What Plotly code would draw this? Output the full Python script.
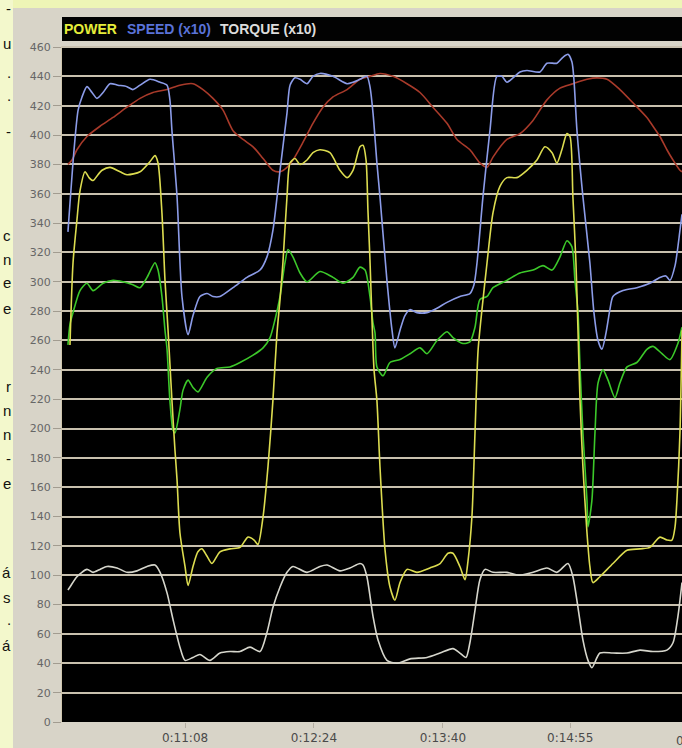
import plotly.graph_objects as go

W, H = 682, 748

# ---- elapsed time (s) and readings -------------------------------------
power_t = [600.2, 602.0, 604.3, 606.1, 609.1, 611.4, 613.8, 616.7, 619.1, 623.8, 629.7, 633.8,
           641.5, 647.4, 650.3, 652.1, 654.4, 656.2, 658.0, 660.3, 662.1, 663.3, 665.0, 668.0,
           669.8, 672.7, 675.6, 678.0, 681.0, 683.9, 688.6, 694.5, 700.4, 705.1, 708.7, 711.0,
           714.0, 716.9, 719.8, 722.2, 724.0, 725.7, 728.1, 729.9, 732.8, 735.8, 739.9, 743.4,
           747.5, 753.4, 759.3, 763.5, 767.0, 771.1, 772.9, 774.7, 775.8, 777.0, 778.2, 779.4,
           781.1, 782.9, 785.9, 788.8, 791.7, 794.7, 798.8, 804.7, 812.4, 818.3, 823.0, 825.9,
           830.0, 833.0, 834.8, 837.1, 838.9, 840.7, 843.0, 846.0, 849.5, 853.6, 857.7, 863.6,
           869.5, 875.4, 880.1, 884.3, 887.2, 890.1, 893.1, 894.9, 896.6, 898.4, 899.6, 900.8,
           902.5, 904.9, 906.6, 908.4, 912.5, 920.2, 928.5, 936.1, 942.0, 947.9, 952.0, 955.0,
           956.8, 957.9, 959.7, 960.9]
power_w = [257, 313, 342, 362, 375, 371, 369, 373, 376, 378, 375, 373,
           375, 382, 386, 381, 347, 301, 267, 219, 185, 165, 129, 106,
           93, 106, 116, 118, 113, 108, 116, 118, 119, 126, 124, 121,
           140, 174, 219, 265, 288, 313, 358, 381, 384, 380, 383, 388,
           390, 388, 376, 371, 376, 392, 393, 383, 349, 315, 274, 240,
           219, 174, 117, 92, 83, 95, 104, 102, 105, 108, 115, 115,
           106, 97, 110, 140, 197, 253, 281, 313, 347, 365, 371, 371,
           376, 383, 392, 388, 381, 390, 401, 399, 358, 313, 267, 219,
           174, 129, 106, 95, 99, 108, 117, 118, 119, 126, 124, 124,
           133, 151, 197, 267]

speed_t = [599.0, 602.6, 605.0, 607.3, 610.2, 613.2, 616.1, 619.7, 623.8, 628.5, 633.8, 637.3,
           641.5, 647.4, 653.3, 657.4, 659.1, 660.3, 663.3, 666.2, 669.8, 672.7, 676.8, 681.0,
           684.5, 688.6, 696.3, 704.5, 712.2, 716.3, 719.8, 724.0, 728.1, 729.9, 732.8, 735.8,
           739.9, 743.4, 747.5, 755.2, 763.5, 767.0, 771.1, 775.2, 777.0, 778.8, 781.1, 782.9,
           787.0, 790.0, 791.7, 794.7, 797.6, 800.6, 804.7, 810.6, 816.5, 822.4, 830.0, 835.9,
           838.3, 840.1, 843.6, 847.7, 851.8, 854.8, 857.7, 861.3, 865.4, 869.5, 877.2, 881.3,
           887.2, 890.7, 893.7, 896.0, 897.2, 899.0, 902.5, 906.6, 909.0, 911.4, 913.7, 916.1,
           918.4, 920.2, 926.1, 934.3, 942.0, 947.9, 951.4, 953.8, 956.8, 959.7, 960.9]
speed_x10 = [334, 390, 417, 426, 433, 429, 425, 429, 435, 434, 433, 431,
             434, 438, 436, 434, 424, 403, 358, 290, 264, 277, 290, 292,
             290, 290, 296, 303, 308, 317, 335, 376, 415, 434, 439, 438,
             435, 440, 442, 440, 435, 436, 438, 440, 433, 415, 381, 358,
             301, 267, 255, 267, 277, 281, 279, 279, 282, 286, 290, 292,
             298, 313, 358, 403, 440, 440, 436, 439, 443, 444, 443, 449,
             449, 453, 455, 450, 438, 403, 358, 313, 279, 260, 254, 265,
             281, 290, 294, 296, 299, 303, 304, 301, 311, 335, 346]

torque_t = [599.0, 600.2, 604.3, 610.2, 613.8, 617.9, 622.0, 627.9, 633.8, 639.7, 645.6, 650.3,
            653.3, 657.4, 660.9, 665.0, 668.0, 672.7, 676.8, 682.7, 688.6, 694.5, 700.4, 706.3,
            712.2, 716.3, 719.8, 724.0, 728.1, 731.6, 739.9, 747.5, 751.7, 759.3, 765.2, 771.1,
            772.9, 775.2, 778.8, 781.7, 787.0, 792.9, 800.6, 810.6, 818.3, 825.9, 830.0, 833.6,
            835.9, 838.9, 841.8, 844.8, 849.5, 857.7, 865.4, 873.1, 881.3, 887.2, 893.7, 896.6,
            899.6, 902.5, 905.5, 907.8, 912.5, 920.2, 928.5, 936.1, 943.8, 952.0, 955.6, 958.5,
            960.9]
torque_x10 = [90, 92, 99, 104, 102, 104, 106, 105, 102, 103, 106, 107,
              102, 88, 70, 51, 42, 44, 46, 42, 47, 48, 48, 51,
              48, 61, 78, 92, 102, 106, 102, 106, 107, 103, 105, 108,
              107, 99, 72, 56, 42, 40, 43, 44, 47, 50, 47, 44,
              54, 76, 97, 104, 102, 102, 100, 102, 105, 102, 108, 99,
              78, 56, 42, 37, 47, 47, 47, 49, 48, 49, 54, 72,
              95]

hr_t = [599.0, 601.4, 604.3, 610.2, 617.9, 625.6, 633.8, 641.5, 649.1, 657.4, 665.0, 672.7,
        678.6, 684.5, 690.4, 696.3, 702.2, 708.1, 714.0, 719.8, 724.0, 728.1, 731.6, 737.5,
        743.4, 749.3, 755.2, 763.5, 771.1, 777.0, 782.9, 790.6, 798.8, 806.5, 814.1, 822.4,
        828.3, 835.9, 841.8, 846.0, 849.5, 857.7, 865.4, 873.1, 881.3, 889.0, 896.6, 904.9,
        910.8, 916.7, 924.3, 932.0, 940.2, 943.8, 947.9, 952.0, 955.6, 959.7, 960.9]
hr_bpm = [380, 383, 390, 399, 406, 412, 419, 425, 429, 431, 434, 435,
          431, 425, 417, 403, 397, 392, 384, 376, 375, 378, 383, 395,
          408, 419, 426, 431, 438, 440, 442, 440, 435, 429, 419, 408,
          397, 390, 381, 378, 385, 397, 401, 410, 424, 432, 435, 438,
          439, 438, 431, 422, 412, 406, 399, 390, 383, 376, 375]

cad_t = [599.0, 600.2, 602.0, 606.1, 610.2, 613.8, 619.7, 625.6, 631.4, 637.3, 641.5, 645.6,
         650.3, 652.1, 654.4, 656.2, 657.4, 659.1, 660.9, 662.1, 665.0, 666.8, 669.8, 672.7,
         675.6, 681.0, 686.8, 694.5, 700.4, 708.1, 714.0, 718.1, 721.0, 724.0, 726.9, 728.7,
         731.6, 735.8, 739.9, 747.5, 755.2, 761.1, 767.0, 771.1, 774.1, 777.0, 778.8, 780.0,
         781.1, 784.7, 788.8, 794.7, 800.6, 806.5, 810.6, 816.5, 822.4, 825.9, 831.8, 835.9,
         838.9, 841.8, 846.0, 849.5, 857.7, 865.4, 873.1, 879.0, 884.3, 889.0, 893.1, 896.0,
         897.8, 899.6, 900.8, 902.5, 904.9, 905.5, 907.8, 909.6, 911.4, 914.3, 917.3, 921.4,
         924.3, 928.5, 934.3, 940.2, 943.8, 949.1, 953.8, 958.5, 960.9]
cad_rpm = [257, 271, 279, 294, 299, 294, 299, 301, 300, 298, 296, 303,
           313, 308, 290, 267, 254, 219, 199, 197, 213, 226, 233, 228,
           225, 235, 241, 242, 245, 250, 255, 262, 274, 290, 313, 322,
           317, 306, 300, 307, 303, 299, 303, 310, 308, 290, 272, 265,
           242, 236, 245, 247, 251, 255, 251, 260, 266, 262, 258, 259,
           269, 288, 290, 296, 301, 306, 308, 311, 308, 317, 328, 324,
           301, 279, 242, 197, 151, 133, 151, 197, 231, 240, 233, 221,
           231, 242, 245, 254, 256, 251, 247, 258, 269]

tick_labels = ["0:11:08", "0:12:24", "0:13:40", "0:14:55", "0:16:11"]
x_range = [595.5, 960.9]
y_range = [0, 460.7]

# fragments of the neighbouring page column, visible at the left edge
side_chars = ["-", "u", ".", ".", "-", "c", "n", "e", "e", "r", "n", "n", "-", "e", "á", "s", ".", "á"]
side_rows = [8, 43, 72, 96, 131, 235, 259, 283, 308, 386, 410, 434, 458, 484, 572, 597, 619, 645]


def to_seconds(label):
    h, m, s = (int(p) for p in label.split(":"))
    return h * 3600 + m * 60 + s


PLOT_L, PLOT_T, PLOT_B = 62, 46, 722
x_dom = [PLOT_L / W, 1.0]
y_dom = [(H - PLOT_B) / H, (H - PLOT_T) / H]

fig = go.Figure()

traces = [
    ("HR", hr_t, hr_bpm, "#a83a2a"),
    ("CADENCE", cad_t, cad_rpm, "#3cc82a"),
    ("TORQUE (x10)", torque_t, torque_x10, "#d6d6cc"),
    ("SPEED (x10)", speed_t, speed_x10, "#8c9ce8"),
    ("POWER", power_t, power_w, "#dcdc50"),
]
for name, t, v, col in traces:
    fig.add_trace(go.Scatter(
        x=t, y=v, mode="lines", name=name, showlegend=False, hoverinfo="skip",
        line=dict(color=col, width=1.6, shape="spline", smoothing=0.7),
    ))

tick_secs = [to_seconds(s) for s in tick_labels]

fig.update_layout(
    width=W, height=H,
    margin=dict(l=0, r=0, t=0, b=0),
    paper_bgcolor="#d8d4c8",
    plot_bgcolor="#000000",
    showlegend=False,
    xaxis=dict(
        domain=x_dom, range=x_range, showgrid=False, zeroline=False,
        tickvals=tick_secs, ticktext=tick_labels,
        ticks="outside", ticklen=5, tickcolor="#b4aea2",
        tickfont=dict(family="DejaVu Sans", size=12, color="#4a4a4a"),
        showline=False, automargin=False, fixedrange=True,
    ),
    yaxis=dict(
        domain=y_dom, range=y_range, tick0=0, dtick=20,
        showgrid=True, gridcolor="#c8c0ae", gridwidth=1.5, zeroline=False,
        ticks="outside", ticklen=8, tickcolor="#a29c90",
        tickfont=dict(family="DejaVu Sans", size=11, color="#666666"),
        showline=True, linecolor="#cfc6ae", linewidth=1,
        automargin=False, fixedrange=True,
    ),
)

# page background strips and the black caption band above the plot
fig.add_shape(type="rect", xref="paper", yref="paper", x0=0, x1=1, y0=(H - 8) / H, y1=1,
              fillcolor="#eef5b6", line_width=0, layer="below")
fig.add_shape(type="rect", xref="paper", yref="paper", x0=0, x1=13 / W, y0=0, y1=1,
              fillcolor="#f3f8cc", line_width=0, layer="below")
fig.add_shape(type="rect", xref="paper", yref="paper", x0=PLOT_L / W, x1=1,
              y0=(H - 41) / H, y1=(H - 17) / H,
              fillcolor="#020202", line_width=0, layer="below")

# caption: series names in their line colours
caption = [("POWER", "#e6ee3a", 62), ("SPEED (x10)", "#5a72d8", 125), ("TORQUE (x10)", "#dcdcdc", 218)]
for txt, col, px in caption:
    fig.add_annotation(xref="paper", yref="paper", x=px / W, y=(H - 29) / H,
                       xanchor="left", yanchor="middle", showarrow=False, text="<b>%s</b>" % txt,
                       font=dict(family="Liberation Sans", size=14, color=col))

# the next time label runs past the right edge of the window
t_next = tick_secs[-1]
frac = (t_next - x_range[0]) / (x_range[1] - x_range[0])
fig.add_annotation(xref="paper", yref="paper", x=x_dom[0] + frac * (x_dom[1] - x_dom[0]),
                   y=(H - 741) / H, xanchor="center", yanchor="middle", showarrow=False,
                   text=tick_labels[-1], font=dict(family="DejaVu Sans", size=12, color="#4a4a4a"))

for ch, row in zip(side_chars, side_rows):
    fig.add_annotation(xref="paper", yref="paper", x=13 / W, y=(H - row) / H,
                       xanchor="right", yanchor="middle", showarrow=False, text=ch,
                       font=dict(family="Liberation Sans", size=15, color="#111111"))

fig.write_html("out.html", config={"displayModeBar": False})
